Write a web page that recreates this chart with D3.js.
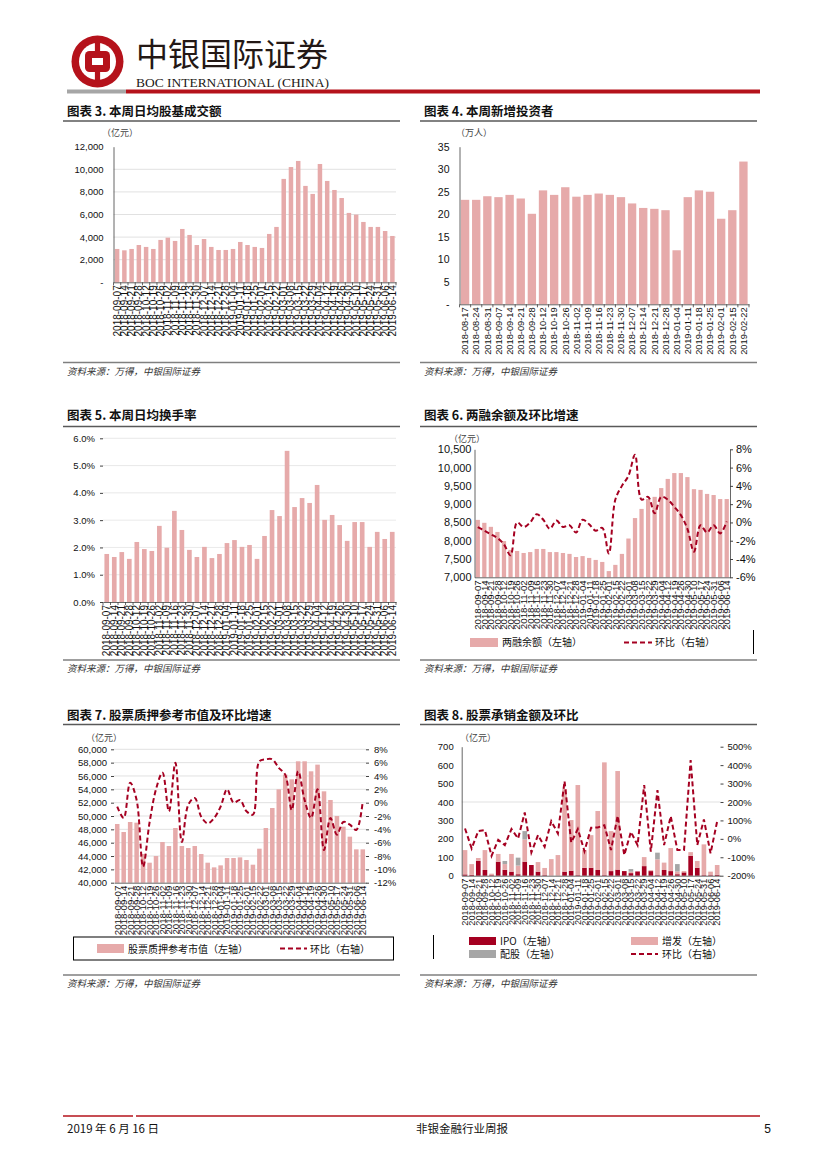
<!DOCTYPE html>
<html>
<head>
<meta charset="utf-8">
<script src="https://cdn.jsdelivr.net/npm/d3@7"></script>
<style>
body{margin:0;background:#fff}
text{font-family:"Liberation Sans",Arial,"Noto Sans CJK SC",sans-serif;fill:#111}
.cn{font-family:"Noto Sans CJK SC","Liberation Sans",sans-serif}
</style>
</head>
<body>
<div id="page"></div>
<script>
// 周度日期（图表3/5/6/7/8）
const weeks = ["2018-09-07","2018-09-14","2018-09-21","2018-09-28","2018-10-12","2018-10-19","2018-10-26",
  "2018-11-02","2018-11-09","2018-11-16","2018-11-23","2018-11-30","2018-12-07","2018-12-14","2018-12-21",
  "2018-12-28","2019-01-04","2019-01-11","2019-01-18","2019-01-25","2019-02-01","2019-02-15","2019-02-22",
  "2019-03-01","2019-03-08","2019-03-15","2019-03-22","2019-03-29","2019-04-04","2019-04-12","2019-04-19",
  "2019-04-26","2019-04-30","2019-05-10","2019-05-17","2019-05-24","2019-05-31","2019-06-06","2019-06-14"];

// 图表3 本周日均股基成交额（亿元）
const turnover = [2950,2830,2950,3300,3130,2950,3750,3950,3660,4720,4190,3300,3830,3130,2860,2860,2950,3570,
  3300,3130,3040,4280,4900,9150,10200,10740,8530,7820,10470,8970,8170,7460,6140,5990,5340,4900,4900,4540,4100];
const turnoverTicks = [0,2000,4000,6000,8000,10000,12000];

// 图表4 本周新增投资者（万人）
const investorWeeks = ["2018-08-17","2018-08-24","2018-08-31","2018-09-07","2018-09-14","2018-09-21","2018-09-28",
  "2018-10-12","2018-10-19","2018-10-26","2018-11-02","2018-11-09","2018-11-16","2018-11-23","2018-11-30",
  "2018-12-07","2018-12-14","2018-12-21","2018-12-28","2019-01-04","2019-01-11","2019-01-18","2019-01-25",
  "2019-02-01","2019-02-15","2019-02-22"];
const newInvestors = [23.2,23.2,24.0,23.8,24.3,23.5,20.1,25.3,24.3,26.0,23.9,24.3,24.6,24.3,23.8,22.4,21.4,21.2,
  20.9,12.0,23.8,25.3,25.0,19.0,20.9,31.7];
const investorTicks = [0,5,10,15,20,25,30,35];

// 图表5 本周日均换手率（%）
const turnoverRate = [1.76,1.65,1.83,1.58,2.20,1.94,1.87,2.79,1.99,3.34,2.64,1.91,1.65,2.02,1.61,1.76,2.16,2.27,
  2.02,2.09,1.58,2.42,3.37,3.15,5.54,3.48,3.81,3.63,4.29,3.01,3.19,2.82,2.24,2.93,2.93,2.02,2.57,2.31,2.57];
const rateTicks = [0,1,2,3,4,5,6];

// 图表6 两融余额（亿元）及环比（%）
const marginBal = [8570,8490,8380,8240,7990,7750,7720,7665,7690,7775,7775,7690,7690,7665,7640,7555,7580,7530,
  7475,7420,7170,7340,7640,8060,8620,8870,9140,9200,9440,9690,9850,9850,9740,9410,9390,9280,9250,9140,9140];
const marginChg = [-0.5,-0.9,-1.3,-1.7,-2.4,-3.6,0.0,-0.5,0.0,0.9,0.3,-0.7,0.2,-0.5,-0.3,-1.1,0.3,-0.2,-0.9,-0.6,
  -3.4,2.5,4.0,5.1,7.4,2.5,2.8,1.0,2.8,2.5,1.7,0.8,-0.7,-3.2,-0.3,-1.1,-0.3,-1.2,0.1];
const marginTicks = [7000,7500,8000,8500,9000,9500,10000,10500];
const marginChgTicks = [-6,-4,-2,0,2,4,6,8];

// 图表7 股票质押参考市值（亿元）及环比（%）
const pledgeVal = [48800,47600,49100,49000,44300,43000,44000,46100,45500,48200,45500,45200,45500,44300,43000,
  42300,42600,43700,43700,43800,43400,42700,45100,48200,51200,54000,56200,55500,58200,58200,56700,57700,53700,
  52400,50000,48400,46900,45000,45000];
const pledgeChg = [-0.6,-2.3,3.0,0.4,-9.6,-3.0,2.0,4.5,-1.3,6.0,-5.9,-0.3,0.7,-2.1,-3.1,-2.3,-0.6,2.0,0.0,0.4,
  -1.3,-1.8,6.2,6.5,6.5,5.2,4.2,-1.1,4.7,0.4,-2.3,2.0,-7.1,-2.3,-4.8,-2.9,-3.3,-4.1,0.2];
const pledgeTicks = [40000,42000,44000,46000,48000,50000,52000,54000,56000,58000,60000];
const pledgeChgTicks = [-12,-10,-8,-6,-4,-2,0,2,4,6,8];

// 图表8 股票承销金额（亿元）及环比（%）
const ipoAmt =    [7,5,80,31,3,76,32,22,8,76,58,22,3,0,0,22,27,3,43,43,31,3,25,33,25,14,23,52,25,3,31,25,8,18,108,43,3,3,5];
const seoAmt =    [132,58,16,108,8,42,31,96,47,121,0,52,39,90,112,448,275,489,96,177,320,612,217,535,0,8,0,49,5,86,40,125,15,7,20,37,167,19,53];
const rightsAmt = [0,0,0,0,0,0,17,0,43,45,0,0,0,0,0,0,0,0,0,0,0,0,0,0,0,14,0,0,0,36,0,0,40,0,0,0,0,0,0];
const underwriteChg = [56,-52,42,47,-92,-6,-34,53,2,143,-74,20,-43,96,29,313,-20,53,-67,60,62,74,-61,125,-88,38,
  -34,292,-70,264,-34,123,-61,-61,427,-34,105,-79,96];
const underwriteTicks = [0,100,200,300,400,500,600,700];
const underwriteChgTicks = [-200,-100,0,100,200,300,400,500];

const pink = '#e6aaaa', darkRed = '#a50021', grey = '#a6a6a6', bocRed = '#b5121b';

const svg = d3.select('#page').append('svg')
    .attr('width', 827)
    .attr('height', 1169);

// ---------- 页眉 ----------
const logo = svg.append('g').attr('transform', 'translate(97.5,61.5)');
logo.append('circle').attr('r', 26).attr('fill', bocRed);
logo.append('circle').attr('r', 18.5).attr('fill', '#fff');
logo.append('rect').attr('x', -2.6).attr('y', -20).attr('width', 5.2).attr('height', 40).attr('fill', bocRed);
logo.append('rect').attr('x', -12.5).attr('y', -10.5).attr('width', 25).attr('height', 21).attr('rx', 4.5).attr('fill', bocRed);
logo.append('rect').attr('x', -5.5).attr('y', -3.5).attr('width', 11).attr('height', 7).attr('fill', '#fff');

svg.append('text').attr('class', 'cn').attr('x', 136).attr('y', 66)
    .style('font-size', '32px').style('fill', '#231815').text('中银国际证券');
svg.append('text').attr('x', 136).attr('y', 86.5)
    .attr('textLength', 193).attr('lengthAdjust', 'spacingAndGlyphs')
    .style('font-family', '"Liberation Serif",serif').style('font-size', '13.5px').style('fill', '#231815')
    .text('BOC INTERNATIONAL (CHINA)');
svg.append('rect').attr('x', 67).attr('y', 89.5).attr('width', 59).attr('height', 4).attr('fill', grey);
svg.append('rect').attr('x', 126).attr('y', 89.5).attr('width', 634).attr('height', 4).attr('fill', bocRed);

// ---------- 页脚 ----------
svg.append('line').attr('x1', 63).attr('x2', 133).attr('y1', 1116).attr('y2', 1116).attr('stroke', bocRed).attr('stroke-width', 1.5);
svg.append('line').attr('x1', 136).attr('x2', 760).attr('y1', 1116).attr('y2', 1116).attr('stroke', bocRed).attr('stroke-width', 1.5);
svg.append('text').attr('class', 'cn').attr('x', 67).attr('y', 1133).style('font-size', '11.5px').text('2019 年 6 月 16 日');
svg.append('text').attr('class', 'cn').attr('x', 462).attr('y', 1133).attr('text-anchor', 'middle').style('font-size', '11.5px').text('非银金融行业周报');
svg.append('text').attr('x', 771).attr('y', 1133).attr('text-anchor', 'end').style('font-size', '12px').text('5');

// ---------- 通用 ----------
function frame(x0, x1, tY, uY, sY, title) {
    svg.append('text').attr('class', 'cn').attr('x', x0 + 4).attr('y', tY)
        .style('font-size', '12.5px').style('font-weight', 700).text(title);
    svg.append('line').attr('x1', x0).attr('x2', x1).attr('y1', uY).attr('y2', uY)
        .attr('stroke', '#595959').attr('stroke-width', 1.6);
    svg.append('line').attr('x1', x0).attr('x2', x1).attr('y1', sY).attr('y2', sY)
        .attr('stroke', '#7f7f7f').attr('stroke-width', 1.6);
    svg.append('text').attr('class', 'cn').attr('x', x0 + 4).attr('y', sY + 12)
        .style('font-size', '9.5px').style('font-style', 'italic').style('fill', '#333')
        .text('资料来源：万得，中银国际证券');
}

function unit(x, y, t) {
    svg.append('text').attr('class', 'cn').attr('x', x).attr('y', y)
        .style('font-size', '9px').style('fill', '#444').text(t);
}

function leftAxis(x0, y, ticks, fmt, tickLen, pad, size) {
    const g = svg.append('g').attr('transform', `translate(${x0},0)`)
        .call(d3.axisLeft(y).tickValues(ticks).tickFormat(fmt).tickSize(tickLen).tickSizeOuter(0).tickPadding(pad));
    g.select('.domain').attr('stroke', '#404040').attr('stroke-width', 0.8);
    g.selectAll('.tick line').attr('stroke', '#404040');
    g.selectAll('text').style('font-size', (size || 9.5) + 'px').style('font-family', '"Liberation Sans",Arial,sans-serif');
    return g;
}

function rightAxis(x1, y, ticks, fmt, tickLen, pad, size) {
    const g = svg.append('g').attr('transform', `translate(${x1},0)`)
        .call(d3.axisRight(y).tickValues(ticks).tickFormat(fmt).tickSize(tickLen).tickSizeOuter(0).tickPadding(pad));
    g.select('.domain').attr('stroke', '#404040').attr('stroke-width', 0.8);
    g.selectAll('.tick line').attr('stroke', '#404040');
    g.selectAll('text').style('font-size', (size || 9.5) + 'px').style('font-family', '"Liberation Sans",Arial,sans-serif');
    return g;
}

function bottomAxis(x, yPos, size, boundaryTicks) {
    const g = svg.append('g').attr('transform', `translate(0,${yPos})`)
        .call(d3.axisBottom(x).tickSize(0).tickSizeOuter(0).tickPadding(0));
    g.select('.domain').attr('stroke', '#404040').attr('stroke-width', 0.8);
    g.selectAll('text')
        .attr('transform', 'rotate(-90)')
        .attr('x', -3).attr('y', 0).attr('dy', '0.35em')
        .style('text-anchor', 'end')
        .style('font-size', size + 'px')
        .style('font-family', '"Liberation Sans",Arial,sans-serif');
    if (boundaryTicks) {
        const step = x.step();
        g.selectAll('.bt').data(x.domain().concat(['end'])).enter().append('line')
            .attr('x1', (d, i) => x.range()[0] + i * step)
            .attr('x2', (d, i) => x.range()[0] + i * step)
            .attr('y1', 0).attr('y2', 3).attr('stroke', '#404040').attr('stroke-width', 0.8);
    }
    return g;
}

function grid(x0, x1, y, ticks, color) {
    svg.append('g').selectAll('line').data(ticks).enter().append('line')
        .attr('x1', x0).attr('x2', x1)
        .attr('y1', d => y(d)).attr('y2', d => y(d))
        .attr('stroke', color).attr('stroke-width', 0.8);
}

function simpleBars(x, y, cats, vals, base) {
    svg.append('g').selectAll('rect').data(vals).enter().append('rect')
        .attr('x', (d, i) => x(cats[i]))
        .attr('width', x.bandwidth())
        .attr('y', d => y(d))
        .attr('height', d => y(base) - y(d))
        .attr('fill', pink);
}

function dashLine(x, y, cats, vals, curve) {
    const line = d3.line()
        .x((d, i) => x(cats[i]) + x.bandwidth() / 2)
        .y(d => y(d))
        .curve(curve);
    svg.append('path').attr('d', line(vals))
        .attr('fill', 'none').attr('stroke', darkRed)
        .attr('stroke-width', 2).attr('stroke-dasharray', '5,3');
}

function band(cats, r0, r1, p) {
    return d3.scaleBand().domain(cats).range([r0, r1]).paddingInner(p).paddingOuter(p / 2);
}

const fmtComma = d => d === 0 ? '-' : d3.format(',')(d);

// ---------- 图表3 ----------
frame(63, 400, 116, 121, 362.5, '图表 3. 本周日均股基成交额');
unit(102, 136, '（亿元）');
{
    const x = band(weeks, 113.5, 396, 0.38);
    const y = d3.scaleLinear().domain([0, 12000]).range([282.3, 146.7]);
    grid(113.5, 396, y, turnoverTicks.slice(1, 6), '#d9d9d9');
    simpleBars(x, y, weeks, turnover, 0);
    leftAxis(113.5, y, turnoverTicks, fmtComma, 0, 10);
    bottomAxis(x, 282.3, 10, true);
}

// ---------- 图表4 ----------
frame(420, 757, 116, 121, 362.5, '图表 4. 本周新增投资者');
unit(456, 136, '（万人）');
{
    const x = band(investorWeeks, 459.5, 749, 0.25);
    const y = d3.scaleLinear().domain([0, 35]).range([304.3, 146.7]);
    simpleBars(x, y, investorWeeks, newInvestors, 0);
    leftAxis(459.5, y, investorTicks, d => d === 0 ? '-' : d, 0, 10, 10.5);
    bottomAxis(x, 304.3, 9.3, true);
}

// ---------- 图表5 ----------
frame(63, 400, 419.5, 426.5, 660, '图表 5. 本周日均换手率');
{
    const x = band(weeks, 103, 396, 0.38);
    const y = d3.scaleLinear().domain([0, 6]).range([602, 438.3]);
    grid(103, 396, y, rateTicks.slice(1), '#e3e3e3');
    simpleBars(x, y, weeks, turnoverRate, 0);
    const ax = leftAxis(103, y, rateTicks, d => d.toFixed(1) + '%', 3, 5);
    ax.select('.domain').attr('stroke', 'none');
    bottomAxis(x, 602, 10, true);
}

// ---------- 图表6 ----------
frame(420, 757, 419.5, 426.5, 660, '图表 6. 两融余额及环比增速');
unit(449, 442, '（亿元）');
{
    const x = band(weeks, 474.5, 730, 0.35);
    const y = d3.scaleLinear().domain([7000, 10500]).range([577.3, 449.3]);
    const y2 = d3.scaleLinear().domain([-6, 8]).range([577.3, 449.3]);
    simpleBars(x, y, weeks, marginBal, 7000);
    leftAxis(474.5, y, marginTicks, d3.format(','), 0, 3, 11);
    rightAxis(730, y2, marginChgTicks, d => d + '%', 3, 3, 11);
    bottomAxis(x, 577.3, 9.7, false);
    dashLine(x, y2, weeks, marginChg, d3.curveCatmullRom.alpha(0.5));

    // 图例
    svg.append('rect').attr('x', 470).attr('y', 638).attr('width', 28).attr('height', 9).attr('fill', pink);
    svg.append('text').attr('class', 'cn').attr('x', 502).attr('y', 646).style('font-size', '10px').text('两融余额（左轴）');
    svg.append('line').attr('x1', 624).attr('x2', 652).attr('y1', 642.5).attr('y2', 642.5)
        .attr('stroke', darkRed).attr('stroke-width', 2).attr('stroke-dasharray', '5,3');
    svg.append('text').attr('class', 'cn').attr('x', 655).attr('y', 646).style('font-size', '10px').text('环比（右轴）');
    svg.append('line').attr('x1', 753.5).attr('x2', 753.5).attr('y1', 630).attr('y2', 654).attr('stroke', '#000');
}

// ---------- 图表7 ----------
frame(63, 400, 719.5, 724.5, 975, '图表 7. 股票质押参考市值及环比增速');
unit(86, 741, '（亿元）');
{
    const x = band(weeks, 114, 366, 0.3);
    const y = d3.scaleLinear().domain([40000, 60000]).range([882.7, 749.3]);
    const y2 = d3.scaleLinear().domain([-12, 8]).range([882.7, 749.3]);
    grid(114, 366, y, pledgeTicks.slice(1), '#d9d9d9');
    simpleBars(x, y, weeks, pledgeVal, 40000);
    const ax = leftAxis(114, y, pledgeTicks, d3.format(','), 3, 4);
    ax.select('.domain').attr('stroke', 'none');
    const ax2 = rightAxis(366, y2, pledgeChgTicks, d => d + '%', 3, 5);
    ax2.select('.domain').attr('stroke', 'none');
    bottomAxis(x, 882.7, 9.7, false);
    dashLine(x, y2, weeks, pledgeChg, d3.curveCatmullRom.alpha(0.5));

    svg.append('rect').attr('x', 73.5).attr('y', 937).attr('width', 320).attr('height', 23)
        .attr('fill', 'none').attr('stroke', '#000').attr('stroke-width', 1);
    svg.append('rect').attr('x', 97).attr('y', 944).attr('width', 27).attr('height', 9).attr('fill', pink);
    svg.append('text').attr('class', 'cn').attr('x', 128).attr('y', 952.5).style('font-size', '10px').text('股票质押参考市值（左轴）');
    svg.append('line').attr('x1', 280).attr('x2', 307).attr('y1', 948.5).attr('y2', 948.5)
        .attr('stroke', darkRed).attr('stroke-width', 2).attr('stroke-dasharray', '5,3');
    svg.append('text').attr('class', 'cn').attr('x', 310).attr('y', 952.5).style('font-size', '10px').text('环比（右轴）');
}

// ---------- 图表8 ----------
frame(420, 757, 719.5, 724.5, 975, '图表 8. 股票承销金额及环比');
unit(460, 741, '（亿元）');
{
    const x = band(weeks, 461.7, 720.5, 0.3);
    const y = d3.scaleLinear().domain([0, 700]).range([875.7, 746.7]);
    const y2 = d3.scaleLinear().domain([-200, 500]).range([875.7, 746.7]);
    grid(461.7, 720.5, y, [400], '#d9d9d9');

    const table = weeks.map((w, i) => ({week: w, ipo: ipoAmt[i], seo: seoAmt[i], rights: rightsAmt[i]}));
    const stacked = d3.stack().keys(['ipo', 'seo', 'rights'])(table);
    const colors = {ipo: darkRed, seo: pink, rights: grey};
    svg.append('g').selectAll('g').data(stacked).enter().append('g')
        .attr('fill', d => colors[d.key])
        .selectAll('rect').data(d => d).enter().append('rect')
        .attr('x', d => x(d.data.week))
        .attr('width', x.bandwidth())
        .attr('y', d => y(d[1]))
        .attr('height', d => y(d[0]) - y(d[1]));

    leftAxis(461.7, y, underwriteTicks, d => d, 0, 8);
    const ax2 = rightAxis(720.5, y2, underwriteChgTicks, d => d + '%', 3, 4);
    ax2.select('.domain').attr('stroke', 'none');
    bottomAxis(x, 875.7, 9.2, false);
    dashLine(x, y2, weeks, underwriteChg, d3.curveLinear);

    svg.append('rect').attr('x', 469).attr('y', 937).attr('width', 27).attr('height', 8).attr('fill', darkRed);
    svg.append('text').attr('class', 'cn').attr('x', 500).attr('y', 945).style('font-size', '10px').text('IPO（左轴）');
    svg.append('rect').attr('x', 631).attr('y', 937).attr('width', 27).attr('height', 8).attr('fill', pink);
    svg.append('text').attr('class', 'cn').attr('x', 662).attr('y', 945).style('font-size', '10px').text('增发（左轴）');
    svg.append('rect').attr('x', 469).attr('y', 950).attr('width', 27).attr('height', 8).attr('fill', grey);
    svg.append('text').attr('class', 'cn').attr('x', 500).attr('y', 958).style('font-size', '10px').text('配股（左轴）');
    svg.append('line').attr('x1', 631).attr('x2', 658).attr('y1', 954).attr('y2', 954)
        .attr('stroke', darkRed).attr('stroke-width', 2).attr('stroke-dasharray', '5,3');
    svg.append('text').attr('class', 'cn').attr('x', 662).attr('y', 958).style('font-size', '10px').text('环比（右轴）');
    svg.append('line').attr('x1', 433.5).attr('x2', 433.5).attr('y1', 935).attr('y2', 959).attr('stroke', '#000');
}
</script>
</body>
</html>
